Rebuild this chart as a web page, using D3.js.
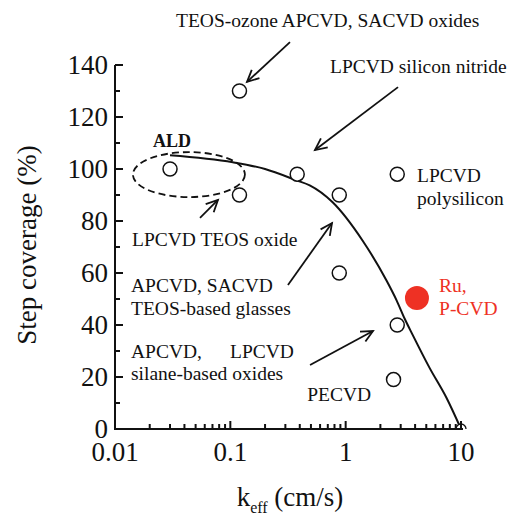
<!DOCTYPE html>
<html><head><meta charset="utf-8">
<script src="https://cdn.jsdelivr.net/npm/d3@7/dist/d3.min.js"></script>
</head><body style="margin:0"><svg id="c" width="509" height="517" style="display:block"></svg>
<script>
// ---- data ----
const curveK = [0.030, 0.105, 0.2, 0.377, 0.488, 0.771, 1.40, 2.26, 2.77, 3.25, 3.80, 5.34, 7.48, 10];
const curveV = [105.3, 102.6, 100.0, 95.6, 93.7, 87.2, 72.5, 57.1, 49.4, 42.4, 36.3, 23.5, 12.0, 0];
const ptsK = [0.03, 0.12, 0.12, 0.38, 0.88, 0.88, 2.8, 2.8, 2.6];
const ptsV = [100, 130, 90, 98, 90, 60, 98, 40, 19];
const endK = [10], endV = [0];
const ruK = [4.15], ruV = [50.4];
const yTicks = [0, 20, 40, 60, 80, 100, 120, 140];
const xTicks = [0.01, 0.1, 1, 10];
const xTickLabels = ["0.01", "0.1", "1", "10"];

const FF = "Liberation Serif";
const svg = d3.select("#c");
const x = d3.scaleLog().domain([0.01, 10]).range([115, 461]);
const y = d3.scaleLinear().domain([0, 140]).range([429, 65]);
const ink = "#111";

function T(sel){ return sel.attr("font-family",FF).style("font-family","'Liberation Serif', Tinos, FreeSerif, serif"); }

svg.append("clipPath").attr("id","pc").append("rect").attr("x",0).attr("y",0).attr("width",509).attr("height",429);

// curve
const line = d3.line().x(d=>x(d[0])).y(d=>y(d[1])).curve(d3.curveMonotoneX);
svg.append("path").datum(curveK.map((k,i)=>[k,curveV[i]])).attr("d",line)
  .attr("fill","none").attr("stroke",ink).attr("stroke-width",2);

// ellipse (ALD)
const eL=0.0143,eR=0.1338,eT=106.5,eB=89.2;
svg.append("ellipse").attr("cx",(x(eL)+x(eR))/2).attr("cy",(y(eT)+y(eB))/2)
  .attr("rx",(x(eR)-x(eL))/2).attr("ry",(y(eB)-y(eT))/2)
  .attr("fill","none").attr("stroke",ink).attr("stroke-width",1.8).attr("stroke-dasharray","7,4");

// points
svg.append("g").selectAll("circle").data(ptsK.map((k,i)=>[k,ptsV[i]])).join("circle")
  .attr("cx",d=>x(d[0])).attr("cy",d=>y(d[1])).attr("r",7)
  .attr("fill","#fff").attr("stroke",ink).attr("stroke-width",1.5);
svg.append("g").attr("clip-path","url(#pc)").selectAll("circle").data(endK.map((k,i)=>[k,endV[i]])).join("circle")
  .attr("cx",d=>x(d[0])).attr("cy",d=>y(d[1])).attr("r",5)
  .attr("fill","#fff").attr("stroke",ink).attr("stroke-width",1.3);
svg.append("g").selectAll("circle").data(ruK.map((k,i)=>[k,ruV[i]])).join("circle")
  .attr("cx",d=>x(d[0])).attr("cy",d=>y(d[1])).attr("r",12).attr("fill","#ee3124");

// axes
const yAxis = svg.append("g").attr("transform","translate(115,0)");
yAxis.append("line").attr("x1",0).attr("x2",0).attr("y1",y(0)).attr("y2",y(140)).attr("stroke",ink).attr("stroke-width",2);
d3.range(0,141,10).forEach(v=>{
  const major = v%20===0;
  yAxis.append("line").attr("x1",0).attr("x2",major?8:5).attr("y1",y(v)).attr("y2",y(v)).attr("stroke",ink).attr("stroke-width",2);
});
T(yAxis.selectAll("text").data(yTicks).join("text").attr("x",-7).attr("y",d=>y(d)).attr("dy","0.34em")
  .attr("text-anchor","end").attr("font-size",27).attr("fill",ink).text(d=>d));

const xAxis = svg.append("g");
xAxis.append("line").attr("x1",x(0.01)-1).attr("x2",x(10)+2).attr("y1",y(0)).attr("y2",y(0)).attr("stroke",ink).attr("stroke-width",2);
[0.01,0.1,1].forEach(dec=>{
  for(let m=1;m<=10;m++){
    const v=dec*m; const major=(m===1||m===10);
    if(major && m===10 && dec<1) continue;
    xAxis.append("line").attr("x1",x(v)).attr("x2",x(v)).attr("y1",y(0)).attr("y2",y(0)-(major?8:5)).attr("stroke",ink).attr("stroke-width",2);
  }
});
T(xAxis.selectAll("text").data(xTicks).join("text").attr("x",d=>x(d)).attr("y",461)
  .attr("text-anchor","middle").attr("font-size",27).attr("fill",ink).text((d,i)=>xTickLabels[i]));

// axis titles
T(svg.append("text").attr("transform","translate(36,245) rotate(-90)").attr("text-anchor","middle")
  .attr("font-size",27).attr("fill",ink).text("Step coverage (%)"));
const xt = T(svg.append("text").attr("x",290).attr("y",506).attr("text-anchor","middle").attr("font-size",27).attr("fill",ink));
xt.append("tspan").text("k");
xt.append("tspan").attr("font-size",16).attr("dy",7).text("eff");
xt.append("tspan").attr("dy",-7).text(" (cm/s)");

// annotations (data coordinates)
const notes = [
  {k:0.0338, v:154.6, t:"TEOS-ozone APCVD, SACVD oxides"},
  {k:0.731, v:136.9, t:"LPCVD silicon nitride"},
  {k:0.0214, v:108.5, t:"ALD", bold:true},
  {k:0.01404, v:70.4, t:"LPCVD TEOS oxide"},
  {k:0.01376, v:52.7, t:"APCVD, SACVD"},
  {k:0.01376, v:43.8, t:"TEOS-based glasses"},
  {k:0.01376, v:27.3, t:"APCVD,"},
  {k:0.0993, v:27.3, t:"LPCVD"},
  {k:0.01376, v:18.8, t:"silane-based oxides"},
  {k:0.464, v:10.8, t:"PECVD"},
  {k:4.155, v:95.0, t:"LPCVD"},
  {k:4.155, v:86.2, t:"polysilicon"},
  {k:6.45, v:52.7, t:"Ru,", red:true},
  {k:6.45, v:43.8, t:"P-CVD", red:true}
];
T(svg.append("g").selectAll("text").data(notes).join("text")
  .attr("x",d=>x(d.k)).attr("y",d=>y(d.v))
  .attr("font-size",d=>d.bold?18:19.5).attr("font-weight",d=>d.bold?"bold":"normal")
  .attr("fill",d=>d.red?"#ee3124":ink).text(d=>d.t));

const arrows = [
  {k0:0.329, v0:148.8, k1:0.1395, v1:133.5},
  {k0:2.844, v0:131.5, k1:0.542, v1:107.3},
  {k0:0.0546, v0:81.2, k1:0.0781, v1:88.1},
  {k0:0.316, v0:55.4, k1:0.761, v1:79.2},
  {k0:0.491, v0:24.6, k1:1.726, v1:37.7}
];
const ag = svg.append("g").attr("stroke",ink).attr("stroke-width",1.8).attr("fill","none");
arrows.forEach(a=>{
  const x0=x(a.k0), y0=y(a.v0), x1=x(a.k1), y1=y(a.v1);
  const ang=Math.atan2(y1-y0,x1-x0), L=13, sp=0.45;
  ag.append("line").attr("x1",x0).attr("y1",y0).attr("x2",x1).attr("y2",y1);
  ag.append("path").attr("d",`M${x1-L*Math.cos(ang-sp)},${y1-L*Math.sin(ang-sp)}L${x1},${y1}L${x1-L*Math.cos(ang+sp)},${y1-L*Math.sin(ang+sp)}`);
});
</script></body></html>
